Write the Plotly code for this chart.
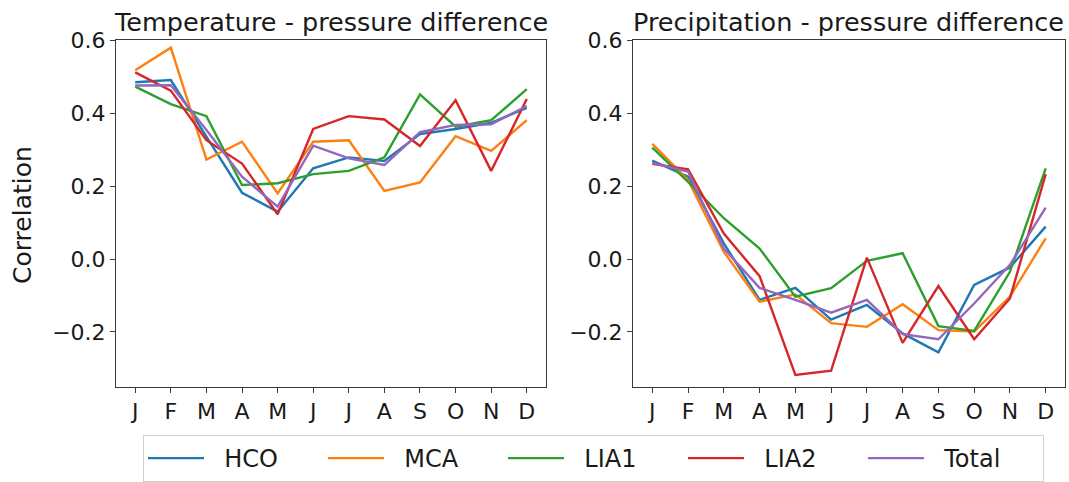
import plotly.graph_objects as go

months = ["J", "F", "M", "A", "M", "J", "J", "A", "S", "O", "N", "D"]
series_names = ["HCO", "MCA", "LIA1", "LIA2", "Total"]
colors = ["#1f77b4", "#ff7f0e", "#2ca02c", "#d62728", "#9467bd"]

temp_hco = [0.485, 0.491, 0.336, 0.182, 0.130, 0.249, 0.279, 0.269, 0.343, 0.357, 0.374, 0.415]
temp_mca = [0.518, 0.580, 0.273, 0.322, 0.180, 0.322, 0.326, 0.187, 0.210, 0.337, 0.297, 0.381]
temp_lia1 = [0.473, 0.425, 0.392, 0.203, 0.208, 0.233, 0.242, 0.279, 0.452, 0.363, 0.381, 0.466]
temp_lia2 = [0.512, 0.462, 0.326, 0.262, 0.123, 0.357, 0.392, 0.383, 0.310, 0.436, 0.242, 0.439]
temp_total = [0.476, 0.477, 0.354, 0.226, 0.144, 0.311, 0.276, 0.258, 0.348, 0.368, 0.370, 0.420]

prec_hco = [0.270, 0.226, 0.043, -0.112, -0.079, -0.166, -0.126, -0.204, -0.256, -0.071, -0.023, 0.089]
prec_mca = [0.316, 0.217, 0.020, -0.117, -0.097, -0.176, -0.186, -0.124, -0.195, -0.199, -0.103, 0.057]
prec_lia1 = [0.306, 0.212, 0.112, 0.029, -0.103, -0.080, -0.005, 0.016, -0.184, -0.197, -0.035, 0.249]
prec_lia2 = [0.261, 0.246, 0.070, -0.047, -0.318, -0.306, 0.004, -0.230, -0.074, -0.220, -0.108, 0.233]
prec_total = [0.264, 0.240, 0.029, -0.079, -0.112, -0.147, -0.112, -0.206, -0.220, -0.122, -0.016, 0.141]

temp_series = [temp_hco, temp_mca, temp_lia1, temp_lia2, temp_total]
prec_series = [prec_hco, prec_mca, prec_lia1, prec_lia2, prec_total]

y_ticks = [-0.2, 0.0, 0.2, 0.4, 0.6]
y_tick_text = ["\u22120.2", "0.0", "0.2", "0.4", "0.6"]

W, H = 1069, 482
FONT = "DejaVu Sans"
x_idx = list(range(len(months)))
PAD = "\u00a0\u00a0"  # visual gap between legend line sample and its label

fig = go.Figure()
for name, col, ys in zip(series_names, colors, temp_series):
    fig.add_trace(go.Scatter(x=x_idx, y=ys, mode="lines", name=PAD + name,
                             line=dict(color=col, width=2.4), xaxis="x", yaxis="y",
                             legendgroup=name, showlegend=True))
for name, col, ys in zip(series_names, colors, prec_series):
    fig.add_trace(go.Scatter(x=x_idx, y=ys, mode="lines", name=PAD + name,
                             line=dict(color=col, width=2.4), xaxis="x2", yaxis="y2",
                             legendgroup=name, showlegend=False))

def px_x(p):
    return p / W

def px_y(p):
    return 1 - p / H

axis_common = dict(
    showgrid=False, zeroline=False, showline=True, mirror=True,
    linecolor="#3a3a3a", linewidth=1, ticks="outside", ticklen=5, tickwidth=1,
    tickcolor="#3a3a3a", tickfont=dict(family=FONT, size=22, color="#1a1a1a"),
    automargin=False,
)

xr = [-0.54, 11.54]
yr = [-0.351, 0.601]

fig.update_layout(
    width=W, height=H,
    margin=dict(l=0, r=0, t=0, b=0),
    paper_bgcolor="white", plot_bgcolor="white",
    font=dict(family=FONT, size=22, color="#1a1a1a"),
    xaxis=dict(domain=[px_x(116), px_x(546)], range=xr, tickmode="array",
               tickvals=x_idx, ticktext=months, anchor="y", **axis_common),
    yaxis=dict(domain=[px_y(387), px_y(40)], range=yr, tickmode="array",
               tickvals=y_ticks, ticktext=y_tick_text, anchor="x", **axis_common),
    xaxis2=dict(domain=[px_x(633), px_x(1065)], range=xr, tickmode="array",
                tickvals=x_idx, ticktext=months, anchor="y2", **axis_common),
    yaxis2=dict(domain=[px_y(387), px_y(40)], range=yr, tickmode="array",
                tickvals=y_ticks, ticktext=y_tick_text, anchor="x2", **axis_common),
    legend=dict(orientation="h", x=px_x(143), xanchor="left", y=px_y(435), yanchor="top",
                bordercolor="#d0d0d0", borderwidth=1, bgcolor="white",
                font=dict(family=FONT, size=24, color="#1a1a1a"),
                itemwidth=56, entrywidth=109, entrywidthmode="pixels"),
    annotations=[
        dict(text="Temperature - pressure difference", x=px_x(331), y=px_y(39),
             xref="paper", yref="paper", xanchor="center", yanchor="bottom",
             showarrow=False, font=dict(family=FONT, size=25.5, color="#1a1a1a")),
        dict(text="Precipitation - pressure difference", x=px_x(848), y=px_y(39),
             xref="paper", yref="paper", xanchor="center", yanchor="bottom",
             showarrow=False, font=dict(family=FONT, size=25.5, color="#1a1a1a")),
        dict(text="Correlation", x=px_x(23), y=px_y(215), xref="paper", yref="paper",
             xanchor="center", yanchor="middle", textangle=-90, showarrow=False,
             font=dict(family=FONT, size=25, color="#1a1a1a")),
    ],
)

fig.write_html("out.html")
